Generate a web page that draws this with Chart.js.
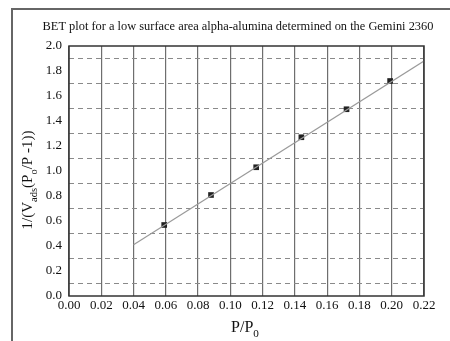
<!DOCTYPE html>
<html>
<head>
<meta charset="utf-8">
<script src="https://cdn.jsdelivr.net/npm/chart.js@4"></script>
<style>
  html, body { margin: 0; padding: 0; background: #fff; }
  #wrap { width: 450px; height: 341px; }
</style>
</head>
<body>
<div id="wrap"><canvas id="bet" width="450" height="341"></canvas></div>
<script>
// measured points
const pressureRatio = [0.059, 0.088, 0.116, 0.144, 0.172, 0.199];
const betValues = [0.568, 0.808, 1.03, 1.27, 1.494, 1.72];
// fitted line ends
const fitX = [0.04, 0.22];
const fitY = [0.41, 1.88];

const chartTitle = "BET plot for a low surface area alpha-alumina determined on the Gemini 2360";
const serif = "'Liberation Serif', 'Times New Roman', serif";

// draws title, axis titles (with subscripts) and the frames
const decorations = {
  id: "decorations",
  afterDraw(chart) {
    const ctx = chart.ctx;
    const a = chart.chartArea;
    ctx.save();

    // outer frame (only left/top visible)
    ctx.strokeStyle = "#666";
    ctx.lineWidth = 2;
    ctx.beginPath();
    ctx.moveTo(12, 341);
    ctx.lineTo(12, 9);
    ctx.lineTo(450, 9);
    ctx.stroke();

    // plot box
    ctx.strokeStyle = "#333";
    ctx.lineWidth = 1.5;
    ctx.strokeRect(a.left, a.top, a.right - a.left, a.bottom - a.top);

    ctx.fillStyle = "#111";
    ctx.textBaseline = "alphabetic";

    // title
    ctx.font = "12.4px " + serif;
    ctx.textAlign = "center";
    ctx.fillText(chartTitle, 238, 30);

    // draws a list of [text, isSub] pieces starting at x
    function pieces(parts, size, x, y) {
      ctx.textAlign = "left";
      parts.forEach(function (p) {
        const f = p[1] ? size * 0.7 : size;
        ctx.font = f + "px " + serif;
        ctx.fillText(p[0], x, p[1] ? y + size * 0.3 : y);
        x += ctx.measureText(p[0]).width;
      });
      return x;
    }
    function width(parts, size) {
      let w = 0;
      parts.forEach(function (p) {
        ctx.font = (p[1] ? size * 0.7 : size) + "px " + serif;
        w += ctx.measureText(p[0]).width;
      });
      return w;
    }

    // x title
    const xParts = [["P/P", false], ["0", true]];
    const xw = width(xParts, 16);
    pieces(xParts, 16, 245 - xw / 2, 332);

    // y title, rotated
    const yParts = [["1/(V", false], ["ads", true], ["(P", false], ["o", true], ["/P -1))", false]];
    const yw = width(yParts, 15);
    ctx.translate(32, 180);
    ctx.rotate(-Math.PI / 2);
    pieces(yParts, 15, -yw / 2, 0);

    ctx.restore();
  },
};

document.addEventListener("DOMContentLoaded", function () {
  const bet = document.getElementById("bet");
  new Chart(bet, {
    type: "scatter",
    data: {
      datasets: [
        {
          type: "line",
          label: "fit",
          data: fitX.map(function (x, i) { return { x: x, y: fitY[i] }; }),
          borderColor: "#9a9a9a",
          borderWidth: 1.2,
          pointRadius: 0,
          fill: false,
        },
        {
          label: "BET",
          data: pressureRatio.map(function (x, i) { return { x: x, y: betValues[i] }; }),
          pointStyle: "rect",
          pointRadius: 4,
          backgroundColor: "#222",
          borderColor: "#222",
          borderWidth: 0,
        },
      ],
    },
    options: {
      responsive: false,
      animation: false,
      layout: { padding: { left: 0, top: 46, right: 26, bottom: 0 } },
      scales: {
        x: {
          type: "linear",
          min: 0,
          max: 0.22,
          afterFit: function (s) { s.height = 45; },
          ticks: {
            stepSize: 0.02,
            color: "#111",
            font: { family: serif, size: 13 },
            padding: 2,
            maxRotation: 0,
            autoSkip: false,
            callback: function (v) { return v.toFixed(2); },
          },
          grid: { color: "#6e6e6e", lineWidth: 1.2, drawTicks: false },
          border: { display: false },
        },
        y: {
          min: 0,
          max: 2,
          afterFit: function (s) { s.width = 69; },
          ticks: {
            stepSize: 0.1,
            color: "#111",
            font: { family: serif, size: 13 },
            padding: 7,
            autoSkip: false,
            callback: function (v) {
              const k = Math.round(v * 10);
              return k % 2 === 0 ? v.toFixed(1) : "";
            },
          },
          grid: {
            drawTicks: false,
            lineWidth: 1,
            color: function (c) {
              const k = Math.round(c.tick.value * 10);
              return k % 2 === 1 ? "#8a8a8a" : "rgba(0,0,0,0)";
            },
          },
          border: { display: false, dash: [5, 4] },
        },
      },
      plugins: {
        legend: { display: false },
        tooltip: { enabled: false },
      },
    },
    plugins: [decorations],
  });
});
</script>
</body>
</html>
